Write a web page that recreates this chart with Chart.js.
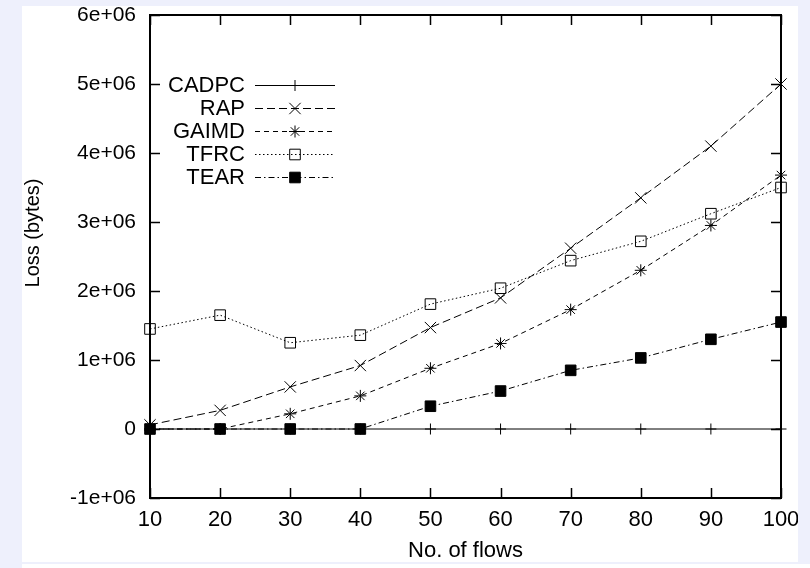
<!DOCTYPE html>
<html>
<head>
<meta charset="utf-8">
<script src="https://cdn.jsdelivr.net/npm/chart.js@4/dist/chart.umd.min.js"></script>
<style>
  html, body { margin: 0; padding: 0; background: #eef0fc; width: 810px; height: 568px; overflow: hidden; }
  #panel { position: absolute; left: 22px; top: 6px; width: 776px; height: 556px; background: #fff; }
  #strip { position: absolute; left: 22px; top: 564px; width: 788px; height: 4px; background: #fff; }
  canvas { display: block; }
</style>
</head>
<body>
<div id="panel"><canvas id="c" width="776" height="556"></canvas></div>
<div id="strip"></div>
<script>
// ---- data ----
const flows = [10, 20, 30, 40, 50, 60, 70, 80, 90, 100];
const seriesNames = ["CADPC", "RAP", "GAIMD", "TFRC", "TEAR"];
const cadpc = [0, 0, 0, 0, 0, 0, 0, 0, 0, 0];
const rap   = [60000, 270000, 610000, 920000, 1470000, 1900000, 2620000, 3350000, 4100000, 5000000];
const gaimd = [0, 0, 220000, 480000, 880000, 1240000, 1730000, 2300000, 2950000, 3680000];
const tfrc  = [1450000, 1650000, 1250000, 1360000, 1810000, 2040000, 2440000, 2720000, 3120000, 3500000];
const tear  = [0, 0, 0, 0, 330000, 550000, 850000, 1030000, 1300000, 1550000];
const yTicks = [-1000000, 0, 1000000, 2000000, 3000000, 4000000, 5000000, 6000000];
const yTitle = 'Loss (bytes)';
const xTitle = 'No. of flows';

const FONT = "'Liberation Sans', Arial, Helvetica, sans-serif";

function pts(arr) { return flows.map((f, i) => ({ x: f, y: arr[i] })); }

const styles = [
  { data: cadpc, dash: [],             pointStyle: 'cross',    r: 5.5, fill: 'rgba(0,0,0,0)' },
  { data: rap,   dash: [8, 4],         pointStyle: 'crossRot', r: 8,   fill: 'rgba(0,0,0,0)' },
  { data: gaimd, dash: [5, 4],         pointStyle: 'star',     r: 6,   fill: 'rgba(0,0,0,0)' },
  { data: tfrc,  dash: [1.5, 2.5],     pointStyle: 'rect',     r: 7.5, fill: 'rgba(0,0,0,0)' },
  { data: tear,  dash: [6, 3, 1.5, 3], pointStyle: 'rect',     r: 7.5, fill: '#000' }
];

const datasets = styles.map((s, i) => ({
  label: seriesNames[i],
  data: pts(s.data),
  borderColor: '#000',
  borderWidth: 1,
  borderDash: s.dash,
  pointStyle: s.pointStyle,
  pointRadius: s.r,
  pointHoverRadius: s.r,
  pointBorderColor: '#000',
  pointBorderWidth: 1,
  pointBackgroundColor: s.fill,
  backgroundColor: s.fill,
  tension: 0,
  fill: false,
  clip: false
}));

// frame + inward mirrored ticks + y title
const framePlugin = {
  id: 'frame',
  beforeDatasetsDraw(chart) {
    const { ctx, chartArea: a, scales } = chart;
    ctx.save();
    ctx.strokeStyle = '#000';
    ctx.setLineDash([]);
    ctx.lineWidth = 1.5;
    const xs = scales.x, ys = scales.y;
    flows.forEach(v => {
      const px = Math.round(xs.getPixelForValue(v)) + 0.5;
      ctx.beginPath();
      ctx.moveTo(px, a.bottom); ctx.lineTo(px, a.bottom - 10);
      ctx.moveTo(px, a.top); ctx.lineTo(px, a.top + 10);
      ctx.stroke();
    });
    yTicks.forEach(v => {
      const py = Math.round(ys.getPixelForValue(v)) + 0.5;
      ctx.beginPath();
      ctx.moveTo(a.left, py); ctx.lineTo(a.left + 10, py);
      ctx.moveTo(a.right, py); ctx.lineTo(a.right - 10, py);
      ctx.stroke();
    });
    ctx.lineWidth = 2;
    ctx.strokeRect(a.left, a.top, a.right - a.left, a.bottom - a.top);
    // y axis title
    ctx.translate(11, 227);
    ctx.rotate(-Math.PI / 2);
    ctx.font = '20px ' + FONT;
    ctx.fillStyle = '#000';
    ctx.textAlign = 'center';
    ctx.textBaseline = 'middle';
    ctx.fillText(yTitle, 0, 0);
    ctx.restore();
  }
};

// gnuplot-style legend: text right-aligned, sample on the right
const keyPlugin = {
  id: 'key',
  afterDatasetsDraw(chart) {
    const { ctx } = chart;
    const a = chart.chartArea;
    const textRight = a.left + 95;
    const lineL = a.left + 105, lineR = a.left + 185;
    const y0 = 79, dy = 23;
    ctx.save();
    chart.data.datasets.forEach((ds, i) => {
      const y = y0 + i * dy;
      ctx.font = '22px ' + FONT;
      ctx.fillStyle = '#000';
      ctx.textAlign = 'right';
      ctx.textBaseline = 'middle';
      ctx.fillText(ds.label, textRight, y + 1);
      ctx.strokeStyle = '#000';
      ctx.lineWidth = 1;
      ctx.setLineDash(ds.borderDash);
      ctx.beginPath();
      ctx.moveTo(lineL, y + 0.5); ctx.lineTo(lineR, y + 0.5);
      ctx.stroke();
      ctx.setLineDash([]);
      ctx.fillStyle = ds.pointBackgroundColor;
      ctx.strokeStyle = '#000';
      ctx.lineWidth = 1;
      Chart.helpers.drawPoint(ctx, { pointStyle: ds.pointStyle, radius: ds.pointRadius, rotation: 0, borderWidth: 1 }, (lineL + lineR) / 2, y + 0.5);
    });
    ctx.restore();
  }
};

new Chart(document.getElementById('c'), {
  type: 'line',
  data: { datasets },
  plugins: [framePlugin, keyPlugin],
  options: {
    responsive: false,
    animation: false,
    events: [],
    layout: { padding: { top: 8, right: 17, left: 0, bottom: 0 } },
    plugins: { legend: { display: false }, tooltip: { enabled: false } },
    scales: {
      x: {
        type: 'linear', min: 10, max: 100,
        grid: { display: false }, border: { display: false },
        afterBuildTicks(s) { s.ticks = flows.map(v => ({ value: v })); },
        afterFit(s) { s.height = 64; s.paddingLeft = 0; s.paddingRight = 0; },
        ticks: { color: '#000', padding: 1, maxRotation: 0, font: { family: FONT, size: 22 }, callback: v => String(v) },
        title: { display: true, text: xTitle, color: '#000', padding: 0, font: { family: FONT, size: 22, lineHeight: 1 } }
      },
      y: {
        type: 'linear', min: -1000000, max: 6000000,
        grid: { display: false }, border: { display: false },
        afterBuildTicks(s) { s.ticks = yTicks.map(v => ({ value: v })); },
        afterFit(s) { s.width = 128; s.paddingTop = 0; s.paddingBottom = 0; },
        ticks: { color: '#000', padding: 6, font: { family: FONT, size: 21 },
          callback: v => v === 0 ? '0' : (v / 1000000) + 'e+06' },
        title: { display: false }
      }
    }
  }
});
</script>
</body>
</html>
